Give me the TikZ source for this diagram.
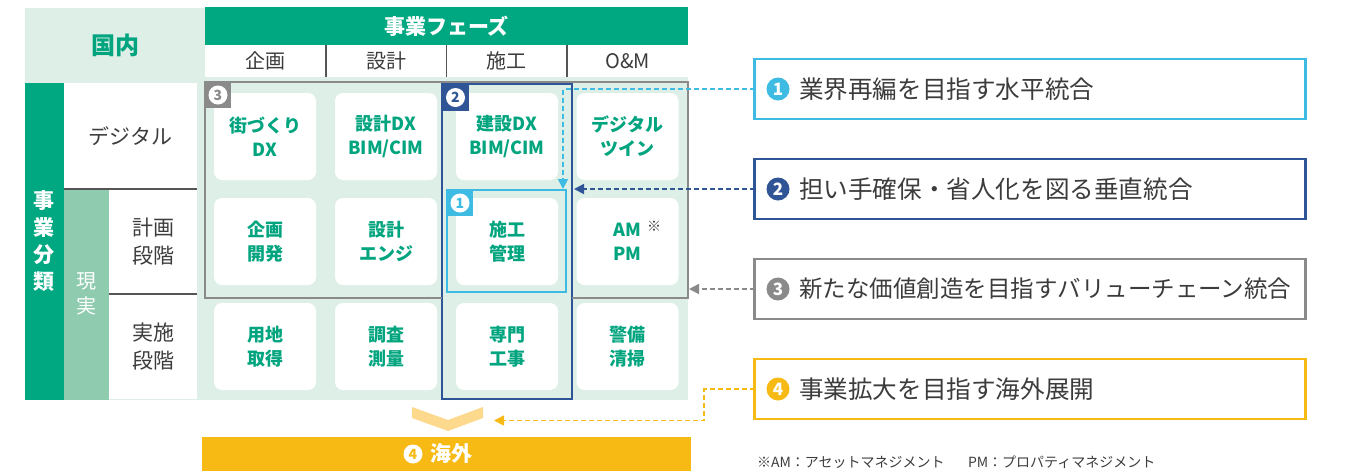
\documentclass[tikz,border=0pt]{standalone}
\usepackage{fontspec}
\setmainfont{Noto Sans CJK JP}
\usetikzlibrary{arrows.meta}
\definecolor{mgreen}{HTML}{00A882}
\definecolor{lgreen}{HTML}{DEEFE7}
\definecolor{mgreenb}{HTML}{8ECBAF}
\definecolor{tgreen}{HTML}{00A47E}
\definecolor{dgray}{HTML}{3C3C3C}
\definecolor{bgray}{HTML}{8A8A8A}
\definecolor{sepgray}{HTML}{555555}
\definecolor{dblue}{HTML}{2F5597}
\definecolor{lblue}{HTML}{3DBBE2}
\definecolor{myellow}{HTML}{F7BA14}
\definecolor{chev}{HTML}{FCD98C}
\newcommand{\fs}[2]{\fontsize{#1}{#2}\selectfont}
\begin{document}
\begin{tikzpicture}[x=1pt,y=-1pt,
  blk/.style={inner sep=0pt, outer sep=0pt, align=center},
  hcell/.style={blk, fill=white, minimum width=121, minimum height=32, text=dgray, font=\fs{20}{24}},
  cell/.style={blk, fill=white, rounded corners=8pt, minimum width=102, minimum height=87, text=tgreen, font=\fs{18}{24}\bfseries},
  badge/.style={blk, minimum width=26, minimum height=26},
  bcirc/.style={blk, circle, fill=white, minimum size=19, font=\fs{14}{14}\bfseries},
  lbox/.style={blk, draw, line width=2.4pt, fill=white, minimum width=551, minimum height=60},
  lnum/.style={blk, circle, minimum size=23, text=white, font=\fs{17}{17}\bfseries},
  ltext/.style={blk, anchor=west, text=dgray, font=\fs{24.6}{27}},
  dline/.style={line width=1.7pt, dash pattern=on 5pt off 3pt, -{Triangle[length=10pt,width=10pt]}},
  sep/.style={sepgray, line width=1.2pt},
  grp/.style={line width=2.8pt}
]
\useasboundingbox (0,0) rectangle (1345,475);

% backgrounds
\fill[lgreen] (25,8) rectangle (688,400);
\node[blk, fill=lgreen, minimum width=180, minimum height=75, text=tgreen, font=\fs{24}{28}\bfseries] (kokunai) at (115,45.5) {国内};
\node[blk, fill=mgreen, minimum width=483, minimum height=38, text=white, font=\fs{21}{24}\bfseries] (phase) at (446.5,26) {事業フェーズ};
\node[hcell] (h1) at (265.5,61) {企画};
\node[hcell] (h2) at (386,61) {設計};
\node[hcell] (h3) at (506.5,61) {施工};
\node[hcell] (h4) at (627.5,61) {O\&M};
\draw[sep] (h1.north east) -- (h1.south east);
\draw[sep] (h2.north east) -- (h2.south east);
\draw[sep] (h3.north east) -- (h3.south east);

% left classification
\node[blk, fill=mgreen, minimum width=39, minimum height=317, text=white, font=\fs{21}{27}\bfseries] (jigyo) at (44.5,241.5) {事\\業\\分\\類};
\node[blk, fill=white, minimum width=133, minimum height=106, text=dgray, font=\fs{21}{24}] (digi) at (130.5,136) {デジタル};
\node[blk, fill=mgreenb, minimum width=45, minimum height=211, text=white, font=\fs{20}{25}] (genj) at (86.5,294) {現\\実};
\node[blk, fill=white, minimum width=88, minimum height=105, text=dgray, font=\fs{21}{28}] (keik) at (153,241.5) {計画\\段階};
\node[blk, fill=white, minimum width=88, minimum height=105, text=dgray, font=\fs{21}{28}] (jiss) at (153,346.5) {実施\\段階};
\draw[sep] (digi.south west) -- (digi.south east);
\draw[sep] (keik.south west) -- (keik.south east);

% cells
\node[cell] (c11) at (265,136.5) {街づくり\\DX};
\node[cell] (c12) at (386,136.5) {設計DX\\BIM/CIM};
\node[cell] (c13) at (507,136.5) {建設DX\\BIM/CIM};
\node[cell] (c14) at (627.5,136.5) {デジタル\\ツイン};
\node[cell] (c21) at (265,241.5) {企画\\開発};
\node[cell] (c22) at (386,241.5) {設計\\エンジ};
\node[cell] (c23) at (507,241.5) {施工\\管理};
\node[cell] (c24) at (627.5,241.5) {AM\\PM};
\node[blk, text=dgray, font=\fs{14}{14}] (kome) at (654,226) {※};
\node[cell] (c31) at (265,346.5) {用地\\取得};
\node[cell] (c32) at (386,346.5) {調査\\測量};
\node[cell] (c33) at (507,346.5) {専門\\工事};
\node[cell] (c34) at (627.5,346.5) {警備\\清掃};

% grouping boxes
\node[blk, minimum width=483, minimum height=216] (b3) at (446.5,190) {};
\node[blk, draw=dblue, grp, minimum width=130, minimum height=315] (b2) at (507,241.5) {};
\draw[bgray, grp] (b2.west |- b3.south) -- (b3.south west) -- (b3.north west) -- (b3.north east) -- (b3.south east) -- (b2.east |- b3.south);
\node[blk, draw=lblue, grp, minimum width=119, minimum height=102] (b1) at (506.5,241) {};

% badges
\node[badge, fill=bgray] (bd3) at (218,95) {};
\node[bcirc, text=bgray] (bc3) at (bd3) {3};
\node[badge, fill=dblue] (bd2) at (455.5,97.5) {};
\node[bcirc, text=dblue] (bc2) at (bd2) {2};
\node[badge, fill=lblue] (bd1) at (460,203) {};
\node[bcirc, text=lblue] (bc1) at (bd1) {1};

% overseas
\fill[chev] (412,407) -- (448,420) -- (483,407) -- (483,418) -- (448,431) -- (412,418) -- cycle;
\node[blk, fill=myellow, minimum width=489, minimum height=34] (kaigai) at (446.5,454) {};
\node[blk, circle, fill=white, minimum size=19, text=myellow, font=\fs{14}{14}\bfseries] (k4) at (413,454) {4};
\node[blk, anchor=west, text=white, font=\fs{21}{24}\bfseries] (kt) at (430,454) {海外};

% label boxes
\node[lbox, draw=lblue] (l1) at (1030,89) {};
\node[lnum, fill=lblue] (n1) at (778,89) {1};
\node[ltext] (t1) at (799,89) {業界再編を目指す水平統合};
\node[lbox, draw=dblue] (l2) at (1030,189) {};
\node[lnum, fill=dblue] (n2) at (778,189) {2};
\node[ltext] (t2) at (799,189) {担い手確保・省人化を図る垂直統合};
\node[lbox, draw=bgray] (l3) at (1030,289) {};
\node[lnum, fill=bgray] (n3) at (778,289) {3};
\node[ltext, font=\fs{23.5}{26}] (t3) at (799,289) {新たな価値創造を目指すバリューチェーン統合};
\node[lbox, draw=myellow] (l4) at (1030,389) {};
\node[lnum, fill=myellow] (n4) at (778,389) {4};
\node[ltext] (t4) at (799,389) {事業拡大を目指す海外展開};

% connectors
\coordinate (a1) at (563,189);
\coordinate (a2) at (574,189);
\coordinate (a3) at (689,289);
\coordinate (k4c) at (704,420.5);
\coordinate (a4) at (494,420.5);
\draw[dline, lblue] (l1.west) -| (a1);
\draw[dline, dblue] (l2.west) -- (a2);
\draw[dline, bgray] (l3.west) -- (a3);
\draw[dline, myellow] (l4.west) -| (k4c) -- (a4);

% footnote
\node[blk, anchor=west, text=dgray, font=\fs{14}{16}] (fn1) at (757,462) {※AM：アセットマネジメント};
\node[blk, anchor=west, text=dgray, font=\fs{14}{16}] (fn2) at (968,462) {PM：プロパティマネジメント};
\end{tikzpicture}
\end{document}
